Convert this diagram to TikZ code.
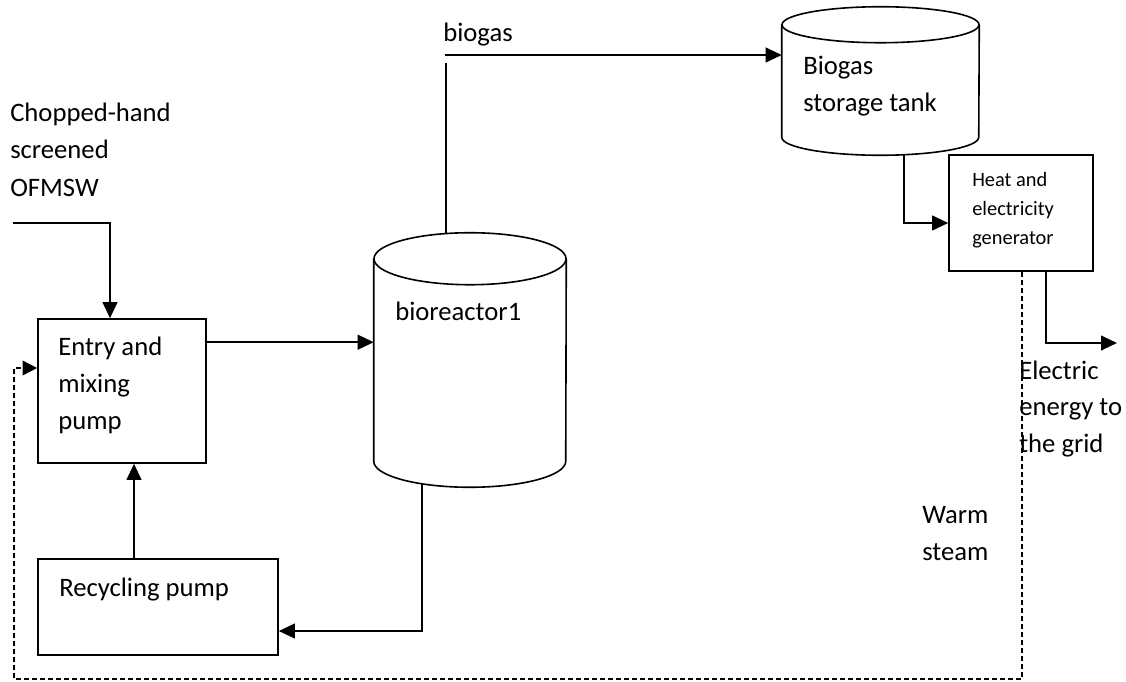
\documentclass[tikz,border=0pt]{standalone}
\usepackage{fontspec}
\setmainfont{Carlito}
\usetikzlibrary{arrows.meta,calc}
% left-aligned lines whose baseline is the first line
\newcommand\lns[1]{\begin{tabular}[t]{@{}l@{}}#1\end{tabular}}
\begin{document}
\begin{tikzpicture}[x=0.75pt,y=0.75pt,
  box/.style={draw, line width=1.2pt, inner sep=0pt},
  hull/.style={inner sep=0pt},
  vessel/.style={line width=1.2pt},
  pipe/.style={line width=1.5pt},
  flow/.style={line width=1.5pt, -{Triangle[length=12pt,width=11pt]}},
  steam/.style={line width=1.2pt, dash pattern=on 4pt off 2pt, -{Triangle[length=11pt,width=11pt]}},
  lbl/.style={anchor=base west, inner sep=0pt, font=\fontsize{20}{27.75}\selectfont},
  small/.style={lbl, font=\fontsize{15.3}{22.1}\selectfont}
]
\useasboundingbox (0,0) rectangle (1126,-681);

% process units
\node[box, minimum width=126pt, minimum height=108pt] (entry) at (122,-391) {};
\node[box, minimum width=180pt, minimum height=72pt] (recyc) at (158,-607) {};
\node[box, minimum width=108pt, minimum height=87pt] (gen) at (1021,-213) {};
\node[hull, minimum width=144pt, minimum height=151.5pt] (reactor) at (470,-360) {};
\node[hull, minimum width=147.75pt, minimum height=84pt] (tank) at (880.5,-81) {};

% bioreactor vessel
\draw[vessel] (reactor.north) ellipse [x radius=96, y radius=26];
\draw[vessel] (reactor.north west) -- (reactor.south west)
  arc[start angle=180, end angle=360, x radius=96, y radius=26] -- (reactor.north east);

% biogas storage tank
\draw[vessel] (tank.north) ellipse [x radius=98.5, y radius=18];
\draw[vessel] (tank.north west) -- (tank.south west)
  arc[start angle=180, end angle=360, x radius=98.5, y radius=18] -- (tank.north east);

% feed line
\coordinate (feed) at (13,-223);
\draw[flow] (feed) -| ($(entry.north)+(-12,0)$);

% entry pump to bioreactor
\coordinate (e1) at ($(entry.north east)+(0,-24)$);
\draw[flow] (e1) -- (e1 -| reactor.west);

% biogas line
\coordinate (gasout) at ($(reactor.north)+(-24,26)$);
\coordinate (gasin) at (445,-55);
\draw[pipe] (gasout) -- ($(gasout |- gasin)+(0,-8)$);
\draw[flow] (gasin) -- (gasin -| tank.west);

% tank to generator
\coordinate (tankout) at ($(tank.south)+(23.5,-17.5)$);
\draw[flow] (tankout) |- ($(gen.west)+(0,-10)$);

% electricity to grid
\coordinate (grid) at (1117,-343);
\draw[flow] ($(gen.south)+(25,0)$) |- (grid);

% warm steam loop
\coordinate (loop) at (14,-679);
\draw[steam] ($(gen.south)+(1,0)$) |- (loop) |- ($(entry.west)+(0,23)$);

% digestate recirculation
\coordinate (sludge) at ($(reactor.south)+(-48,-23)$);
\draw[flow] (sludge) |- ($(recyc.east)+(0,-24)$);
\coordinate (r1) at ($(recyc.north)+(-24,0)$);
\draw[flow] (r1) -- (r1 |- entry.south);

% labels
\node[lbl] (feedlbl) at (10,-122) {\lns{Chopped-hand\\screened\\OFMSW}};
\node[lbl] (entrylbl) at (58,-355) {\lns{Entry and\\mixing\\pump}};
\node[lbl] (reactorlbl) at (395,-320) {bioreactor1};
\node[lbl] (recyclbl) at (59,-596) {Recycling pump};
\node[lbl] (gaslbl) at (443,-42) {biogas};
\node[lbl] (tanklbl) at (803,-75) {\lns{Biogas\\storage tank}};
\node[small] (genlbl) at (972,-186) {\lns{Heat and\\electricity\\generator}};
\node[lbl, font=\fontsize{20}{27.4}\selectfont] (gridlbl) at (1019,-379) {\lns{Electric\\energy to\\the grid}};
\node[lbl] (steamlbl) at (922,-523) {\lns{Warm\\steam}};
\end{tikzpicture}
\end{document}
